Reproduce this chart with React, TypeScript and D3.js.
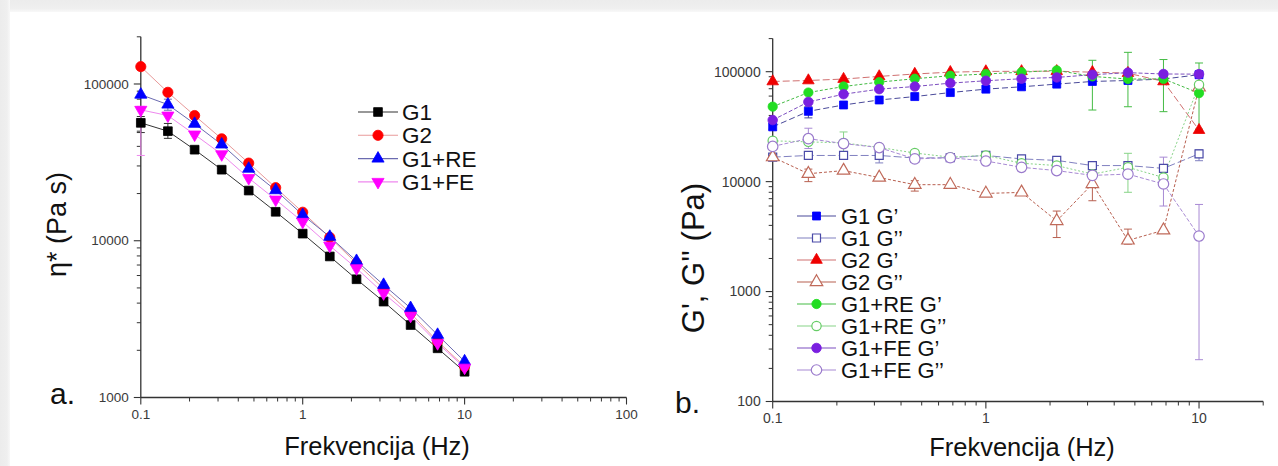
import React from 'react';
import * as d3 from 'd3';

const W = 1278;
const H = 466;
const FONT = "'Liberation Sans', Arial, Helvetica, sans-serif";

// ---------- data ----------
const FREQ = [0.1, 0.147, 0.215, 0.316, 0.464, 0.681, 1, 1.47, 2.15, 3.16, 4.64, 6.81, 10];

// panel a: complex viscosity eta* (Pa s)
const ETA_G1 = [56500, 50000, 38100, 28400, 20900, 15300, 11100, 7940, 5680, 4090, 2900, 2060, 1460];
const ETA_G2 = [129000, 88500, 62900, 44700, 31300, 21800, 15200, 10500, 7180, 4950, 3450, 2280, 1580];
const ETA_RE = [85500, 73900, 55700, 41100, 28800, 21000, 14600, 10600, 7430, 5230, 3720, 2510, 1700];
const ETA_FE = [68400, 62900, 47600, 35600, 25100, 18300, 13200, 9300, 6670, 4620, 3320, 2220, 1550];

const ERR_ETA_G1 = [[0.1, 49000, 62000], [0.147, 45000, 56000]];
const ERR_ETA_RE = [[0.147, 68000, 80000]];
const ERR_ETA_FE = [[0.1, 35000, 72000]];

// panel b: moduli G', G'' (Pa)
const G1_GP = [31500, 43600, 49800, 55300, 59400, 64600, 69400, 72900, 77100, 81500, 83200, 85700, 93900];
const G1_GPP = [16700, 17300, 17300, 17300, 16400, 16500, 17300, 16100, 15600, 14000, 14000, 13200, 17900];
const G2_GP = [81500, 83200, 85700, 90600, 95300, 99000, 100600, 100800, 101000, 99000, 97000, 81500, 29400];
const G2_GPP = [16700, 11800, 12600, 10900, 9380, 9380, 7810, 7980, 4390, 9530, 2920, 3610, 72000];
const RE_GP = [48100, 64600, 73300, 80400, 86300, 91900, 95300, 99000, 102800, 90600, 85700, 86000, 63800];
const RE_GPP = [23500, 23000, 22500, 20500, 18200, 16700, 17300, 14700, 14000, 11700, 13500, 10900, 76000];
const FE_GP = [36300, 53100, 62400, 69400, 73300, 78700, 82700, 86300, 88700, 93900, 98000, 95300, 95000];
const FE_GPP = [20900, 24600, 22200, 20400, 16100, 16500, 15400, 13500, 12600, 11400, 11700, 9520, 3200];

const ERR_G1_GP = [[0.147, 38000, 48000]];
const ERR_G1_GPP = [[0.316, 14800, 19500], [10, 15500, 19500]];
const ERR_G2_GPP = [[0.147, 10000, 13000], [0.464, 8200, 10200], [2.15, 3100, 5400], [3.16, 6700, 9530], [4.64, 2700, 3700]];
const ERR_RE_GP = [[3.16, 44800, 127000], [4.64, 48000, 150000], [6.81, 43300, 129000], [10, 30000, 120000]];
const ERR_RE_GPP = [[0.215, 18000, 28300], [4.64, 8000, 18100]];
const ERR_FE_GPP = [[0.147, 20000, 30600], [6.81, 6000, 16700], [10, 240, 6200]];

const LABELS_A = ['G1', 'G2', 'G1+RE', 'G1+FE'];
const LABELS_B = ['G1 G’', 'G1 G’’', 'G2 G’', 'G2 G’’', 'G1+RE G’', 'G1+RE G’’', 'G1+FE G’', 'G1+FE G’’'];

const X_TICKS_A = [0.1, 1, 10, 100];
const Y_TICKS_A = [1000, 10000, 100000];
const X_TICKS_B = [0.1, 1, 10];
const Y_TICKS_B = [100, 1000, 10000, 100000];

type Shape = 'square' | 'circle' | 'up' | 'down';
interface Series {
  label: string;
  values: number[];
  err: number[][];
  fill: string;
  stroke: string;
  line: string;
  shape: Shape;
  dash?: string;
  size: number;
}

const SERIES_A: Series[] = [
  { label: LABELS_A[0], values: ETA_G1, err: ERR_ETA_G1, fill: '#000000', stroke: '#000000', line: '#333333', shape: 'square', size: 76 },
  { label: LABELS_A[1], values: ETA_G2, err: [], fill: '#ff0000', stroke: '#ff0000', line: '#e89a9a', shape: 'circle', size: 82 },
  { label: LABELS_A[2], values: ETA_RE, err: ERR_ETA_RE, fill: '#0000ff', stroke: '#0000ff', line: '#6b6bb0', shape: 'up', size: 64 },
  { label: LABELS_A[3], values: ETA_FE, err: ERR_ETA_FE, fill: '#ff00ff', stroke: '#ff00ff', line: '#ee88ee', shape: 'down', size: 64 },
];

const SERIES_B: Series[] = [
  { label: LABELS_B[0], values: G1_GP, err: ERR_G1_GP, fill: '#0000ff', stroke: '#0000ff', line: '#4a4a9a', shape: 'square', dash: '6,3', size: 64 },
  { label: LABELS_B[1], values: G1_GPP, err: ERR_G1_GPP, fill: '#ffffff', stroke: '#4a4aa8', line: '#8080c0', shape: 'square', dash: '8,3', size: 64 },
  { label: LABELS_B[2], values: G2_GP, err: [], fill: '#ee0000', stroke: '#ee0000', line: '#d07070', shape: 'up', dash: '7,3', size: 58 },
  { label: LABELS_B[3], values: G2_GPP, err: ERR_G2_GPP, fill: '#ffffff', stroke: '#c06a5a', line: '#b86050', shape: 'up', dash: '3,2', size: 68 },
  { label: LABELS_B[4], values: RE_GP, err: ERR_RE_GP, fill: '#22dd22', stroke: '#22dd22', line: '#44bb44', shape: 'circle', dash: '3,2', size: 68 },
  { label: LABELS_B[5], values: RE_GPP, err: ERR_RE_GPP, fill: '#ffffff', stroke: '#66cc66', line: '#88d488', shape: 'circle', dash: '2,2', size: 68 },
  { label: LABELS_B[6], values: FE_GP, err: [], fill: '#7a1fe0', stroke: '#7a1fe0', line: '#7d4fc0', shape: 'circle', dash: '4,2', size: 72 },
  { label: LABELS_B[7], values: FE_GPP, err: ERR_FE_GPP, fill: '#ffffff', stroke: '#9a7acc', line: '#a88ad4', shape: 'circle', dash: '4,2', size: 86 },
];

// ---------- helpers ----------
function symbolD(shape: Shape, size: number): string {
  const t = shape === 'square' ? d3.symbolSquare : shape === 'circle' ? d3.symbolCircle : d3.symbolTriangle;
  return d3.symbol(t, size)() || '';
}

function Marker({ s, x, y }: { s: Series; x: number; y: number }) {
  const rot = s.shape === 'down' ? ' rotate(180)' : '';
  return (
    <path
      d={symbolD(s.shape, s.size)}
      transform={`translate(${x},${y})${rot}`}
      fill={s.fill}
      stroke={s.stroke}
      strokeWidth={s.fill === '#ffffff' ? 1.2 : 0.8}
    />
  );
}

function minorTicks(dom: number[]): number[] {
  const out: number[] = [];
  const e0 = Math.floor(Math.log10(dom[0]));
  const e1 = Math.ceil(Math.log10(dom[1]));
  for (let e = e0; e <= e1; e++) {
    for (let k = 2; k <= 9; k++) {
      const v = k * Math.pow(10, e);
      if (v > dom[0] * 1.0001 && v <= dom[1] * 1.0001) out.push(v);
    }
  }
  return out;
}

interface AxesProps {
  xs: d3.ScaleLogarithmic<number, number>;
  ys: d3.ScaleLogarithmic<number, number>;
  xTicks: number[];
  yTicks: number[];
  fs: number;
}

function Axes({ xs, ys, xTicks, yTicks, fs }: AxesProps) {
  const [x0, x1] = xs.range();
  const [y0, y1] = ys.range();
  const ax = '#333333';
  return (
    <g>
      <line x1={x0} x2={x0} y1={y0} y2={y1} stroke={ax} strokeWidth={1.3} />
      <line x1={x0} x2={x1} y1={y0} y2={y0} stroke={ax} strokeWidth={1.3} />
      {yTicks.map((v) => (
        <g key={'ym' + v}>
          <line x1={x0 - 7} x2={x0} y1={ys(v)} y2={ys(v)} stroke={ax} strokeWidth={1.1} />
          <text x={x0 - 12} y={ys(v)} dy="0.35em" textAnchor="end" fontSize={fs} fill="#3a3a3a" fontFamily={FONT}>
            {String(v)}
          </text>
        </g>
      ))}
      {minorTicks(ys.domain()).map((v) => (
        <line key={'yn' + v} x1={x0 - 4} x2={x0} y1={ys(v)} y2={ys(v)} stroke={ax} strokeWidth={1} />
      ))}
      {xTicks.map((v) => (
        <g key={'xm' + v}>
          <line x1={xs(v)} x2={xs(v)} y1={y0} y2={y0 + 7} stroke={ax} strokeWidth={1.1} />
          <text x={xs(v)} y={y0 + 21} textAnchor="middle" fontSize={fs} fill="#3a3a3a" fontFamily={FONT}>
            {String(v)}
          </text>
        </g>
      ))}
      {minorTicks(xs.domain()).map((v) => (
        <line key={'xn' + v} x1={xs(v)} x2={xs(v)} y1={y0} y2={y0 + 4} stroke={ax} strokeWidth={1} />
      ))}
    </g>
  );
}

function Plot({ series, xs, ys }: { series: Series[]; xs: any; ys: any }) {
  const lineGen = d3
    .line<number>()
    .x((_, i) => xs(FREQ[i]))
    .y((d) => ys(d));
  return (
    <g>
      {series.map((s) => (
        <path key={'l' + s.label} d={lineGen(s.values) || ''} fill="none" stroke={s.line} strokeWidth={1} strokeDasharray={s.dash} />
      ))}
      {series.map((s) =>
        s.err.map(([xv, lo, hi], j) => (
          <g key={'e' + s.label + j} stroke={s.line} strokeWidth={1}>
            <line x1={xs(xv)} x2={xs(xv)} y1={ys(lo)} y2={ys(hi)} />
            <line x1={xs(xv) - 4} x2={xs(xv) + 4} y1={ys(lo)} y2={ys(lo)} />
            <line x1={xs(xv) - 4} x2={xs(xv) + 4} y1={ys(hi)} y2={ys(hi)} />
          </g>
        ))
      )}
      {series.map((s) => (
        <g key={'m' + s.label}>
          {s.values.map((v, i) => (
            <Marker key={i} s={s} x={xs(FREQ[i])} y={ys(v)} />
          ))}
        </g>
      ))}
    </g>
  );
}

function Legend({ series, x0, x1, xt, y0, dy, fs }: { series: Series[]; x0: number; x1: number; xt: number; y0: number; dy: number; fs: number }) {
  return (
    <g>
      {series.map((s, i) => {
        const y = y0 + i * dy;
        return (
          <g key={'lg' + s.label}>
            <line x1={x0} x2={x1} y1={y} y2={y} stroke={s.line} strokeWidth={1.1} />
            <Marker s={s} x={(x0 + x1) / 2} y={y} />
            <text x={xt} y={y} dy="0.36em" fontSize={fs} fill="#111" fontFamily={FONT}>
              {s.label}
            </text>
          </g>
        );
      })}
    </g>
  );
}

export default function App() {
  // panel a scales
  const xA = d3.scaleLog().domain([0.1, 100]).range([140.8, 626.5]);
  const yA = d3.scaleLog().domain([1000, 200000]).range([397.5, 36.8]);
  // panel b scales
  const xB = d3.scaleLog().domain([0.1, 20]).range([772.7, 1263.2]);
  const yB = d3.scaleLog().domain([100, 200000]).range([401.5, 38.6]);

  return (
    <svg width={W} height={H} style={{ position: 'absolute', left: 0, top: 0, background: '#ffffff' }} fontFamily={FONT}>
      <defs>
        <linearGradient id="topShade" x1="0" y1="0" x2="0" y2="1">
          <stop offset="0" stopColor="#ececec" />
          <stop offset="0.7" stopColor="#efefef" />
          <stop offset="1" stopColor="#f8f8f8" />
        </linearGradient>
        <linearGradient id="leftShade" x1="0" y1="0" x2="1" y2="0">
          <stop offset="0" stopColor="#ececec" />
          <stop offset="0.7" stopColor="#efefef" />
          <stop offset="1" stopColor="#f8f8f8" />
        </linearGradient>
      </defs>
      <rect x={0} y={0} width={W} height={H} fill="#ffffff" />
      <rect x={0} y={0} width={W} height={12} fill="url(#topShade)" />
      <rect x={0} y={0} width={10} height={H} fill="url(#leftShade)" />

      {/* panel a */}
      <Axes xs={xA} ys={yA} xTicks={X_TICKS_A} yTicks={Y_TICKS_A} fs={13.5} />
      <Plot series={SERIES_A} xs={xA} ys={yA} />
      <Legend series={SERIES_A} x0={358} x1={398} xt={402} y0={112} dy={23.3} fs={22.5} />
      <text x={57} y={224.5} transform="rotate(-90 57 224.5)" dy="0.35em" textAnchor="middle" fontSize={27} fill="#111">
        η* (Pa s)
      </text>
      <text x={377} y={455} textAnchor="middle" fontSize={25.5} fill="#111">
        Frekvencija (Hz)
      </text>
      <text x={50} y={404} fontSize={30} fill="#111">
        a.
      </text>

      {/* panel b */}
      <Axes xs={xB} ys={yB} xTicks={X_TICKS_B} yTicks={Y_TICKS_B} fs={14} />
      <Plot series={SERIES_B} xs={xB} ys={yB} />
      <Legend series={SERIES_B} x0={797} x1={836} xt={841} y0={216} dy={22} fs={22} />
      <text x={693} y={258} transform="rotate(-90 693 258)" dy="0.35em" textAnchor="middle" fontSize={31} fill="#111">
        G', G'' (Pa)
      </text>
      <text x={1022} y={456} textAnchor="middle" fontSize={25.5} fill="#111">
        Frekvencija (Hz)
      </text>
      <text x={675} y={413} fontSize={30} fill="#111">
        b.
      </text>
    </svg>
  );
}
